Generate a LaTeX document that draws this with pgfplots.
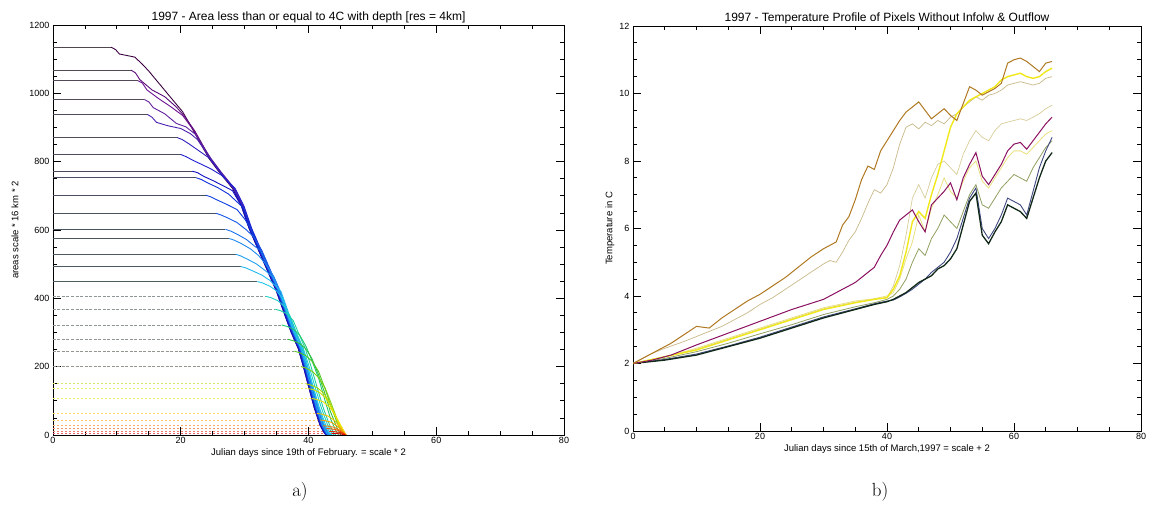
\documentclass[border=0pt]{standalone}
\usepackage{fontspec}
\newfontfamily\hers{Liberation Sans}
\usepackage{pgfplots}
\pgfplotsset{compat=1.18}
% left chart line colours (rainbow, top -> bottom)
\definecolor{c1}{HTML}{3A0040}\definecolor{c2}{HTML}{5A0A78}\definecolor{c3}{HTML}{6A1090}
\definecolor{c4}{HTML}{6020A0}\definecolor{c5}{HTML}{4A20B0}\definecolor{c6}{HTML}{3020C0}
\definecolor{c7}{HTML}{2020D0}\definecolor{c8}{HTML}{1010C0}\definecolor{c9}{HTML}{1030D8}
\definecolor{c10}{HTML}{1040E0}\definecolor{c11}{HTML}{1858E8}\definecolor{c12}{HTML}{1A70EC}
\definecolor{c13}{HTML}{2088F0}\definecolor{c14}{HTML}{20A0F0}\definecolor{c15}{HTML}{20B8F0}
\definecolor{c16}{HTML}{20C8E8}\definecolor{c17}{HTML}{20D0C8}\definecolor{c18}{HTML}{20D0A0}
\definecolor{c19}{HTML}{20C870}\definecolor{c20}{HTML}{30C040}\definecolor{c21}{HTML}{50C820}
\definecolor{c22}{HTML}{80D010}\definecolor{c23}{HTML}{B0D800}\definecolor{c24}{HTML}{D8E000}
\definecolor{c25}{HTML}{F0E000}\definecolor{c26}{HTML}{F8C000}\definecolor{c27}{HTML}{F8A000}
\definecolor{c28}{HTML}{F87800}\definecolor{c29}{HTML}{F05000}\definecolor{c30}{HTML}{E82800}
\definecolor{c31}{HTML}{D80000}
% right chart colours
\definecolor{sA}{HTML}{B07820}\definecolor{sB}{HTML}{C8B888}\definecolor{sC}{HTML}{F0E818}
\definecolor{sD}{HTML}{8A1060}\definecolor{sE}{HTML}{D8CC98}\definecolor{sF}{HTML}{102818}
\definecolor{sG}{HTML}{404880}\definecolor{sH}{HTML}{90A060}\definecolor{sI}{HTML}{E8E080}
\pgfplotsset{
  idl/.style={scale only axis, anchor=south west, xmin=0, xmax=80,
    xtick={0,20,40,60,80}, minor x tick num=3, minor y tick num=3,
    tick align=inside, xtick pos=both, ytick pos=both,
    major tick length=8pt, minor tick length=4pt,
    axis line style={line width=0.8pt},
    every tick/.style={black, line width=0.8pt},
    /pgf/number format/assume math mode=true,
    /pgf/number format/1000 sep={},
    scaled ticks=false, no markers,
    tick label style={font=\hers\fontsize{9}{10}\selectfont},
    xticklabel style={anchor=base, yshift=-9pt},
    title style={font=\hers\fontsize{12}{14}\selectfont, anchor=base, yshift=-2pt},
    label style={font=\hers\fontsize{9.5}{11}\selectfont},
    xlabel style={at={(axis description cs:0.5,0)}, anchor=base, yshift=-21pt},
  },
  dl/.style={line width=0.9pt, color=#1},
  fu/.style={line width=0.8pt, color=#1!15!black!72},
  fm/.style={line width=0.8pt, color=#1!12!black!45, dash pattern=on 3pt off 1.5pt},
  fl/.style={line width=0.8pt, color=#1!60, dash pattern=on 2pt off 2pt},
}
\begin{document}
\begin{tikzpicture}
\useasboundingbox (0,0) rectangle (1152pt,510pt);
% ---------------- left chart ----------------
\begin{axis}[idl, at={(53pt,75pt)}, width=511pt, height=410pt,
  ymin=0, ymax=1200, ytick={0,200,...,1200},
  title={1997 - Area less than or equal to 4C with depth [res = 4km]},
  xlabel={Julian days since 19th of February. = scale * 2},
  ylabel={areas scale * 16 km * 2},
  ylabel style={at={(axis description cs:-0.0744,0.5)}, anchor=center},
]
% flat parts
\addplot[fu=c1] coordinates {(0,1135)(9.1,1135)};
\addplot[fu=c2] coordinates {(0,1068)(12.2,1068)};
\addplot[fu=c3] coordinates {(0,1037)(13.3,1037)};
\addplot[fu=c4] coordinates {(0,982)(14.3,982)};
\addplot[fu=c5] coordinates {(0,938)(14.8,938)};
\addplot[fu=c6] coordinates {(0,870)(19.5,870)};
\addplot[fu=c7] coordinates {(0,821)(20,821)};
\addplot[fu=c8] coordinates {(0,772)(21.8,772)};
\addplot[fu=c9] coordinates {(0,753)(22.4,753)};
\addplot[fu=c10] coordinates {(0,702)(23.9,702)};
\addplot[fu=c11] coordinates {(0,649)(25.5,649)};
\addplot[fu=c12] coordinates {(0,602)(27,602)};
\addplot[fu=c13] coordinates {(0,575)(27.6,575)};
\addplot[fu=c14] coordinates {(0,529)(28.6,529)};
\addplot[fu=c15] coordinates {(0,493)(29.4,493)};
\addplot[fu=c16] coordinates {(0,449)(32,449)};
\addplot[fm=c17] coordinates {(0,406)(33.3,406)};
\addplot[fm=c18] coordinates {(0,368)(34.8,368)};
\addplot[fm=c19] coordinates {(0,322)(35.8,322)};
\addplot[fm=c20] coordinates {(0,280)(36.8,280)};
\addplot[fm=c21] coordinates {(0,245)(37.8,245)};
\addplot[fm=c22] coordinates {(0,200)(38.8,200)};
\addplot[fl=c23] coordinates {(0,150)(39.6,150)};
\addplot[fl=c24] coordinates {(0,136)(39.9,136)};
\addplot[fl=c25] coordinates {(0,107)(40.5,107)};
\addplot[fl=c26] coordinates {(0,63)(41.3,63)};
\addplot[fl=c27] coordinates {(0,44)(41.8,44)};
\addplot[fl=c28] coordinates {(0,27)(42.3,27)};
\addplot[fl=c29] coordinates {(0,19)(42.8,19)};
\addplot[fl=c30] coordinates {(0,11)(43.2,11)};
\addplot[fl=c31] coordinates {(0,5)(43.6,5)};
% declining parts
\addplot[dl=c1] coordinates {(9.1,1135)(9.8,1128)(10.4,1115)(11.5,1111)(12.8,1106)(14,1085)(15,1065)(17,1020)(19,975)(20.3,946)(22,890)(24.4,810)(26,770)(28.1,722)(29.5,670)(30.7,605)(32.2,540)(34.0,463)(35.0,420)(36.3,351)(37.3,300)(38.4,253)(39.2,200)(40.1,136)(40.9,80)(41.8,29)(42.5,5)(42.8,0)};
\addplot[dl=c2] coordinates {(12.2,1068)(12.9,1060)(13.6,1040)(15.5,1010)(17.5,990)(19.3,960)(20.5,935)(22.2,890)(24.6,810)(26.2,770)(28.3,722)(29.7,670)(30.9,605)(32.4,540)(34.2,463)(35.2,420)(36.5,351)(37.5,300)(38.6,253)(39.4,200)(40.3,136)(41.1,80)(42.0,29)(42.7,5)(43.0,0)};
\addplot[dl=c3] coordinates {(13.3,1037)(14,1030)(14.7,1010)(16.5,985)(18.5,960)(20.3,935)(22.1,890)(24.5,810)(26.1,770)(28.2,722)(29.6,670)(30.8,605)(32.3,540)(34.1,463)(35.1,420)(36.4,351)(37.4,300)(38.5,253)(39.3,200)(40.2,136)(41.0,80)(41.9,29)(42.6,5)(42.9,0)};
\addplot[dl=c4] coordinates {(14.3,982)(15,975)(15.7,958)(17.5,940)(19.3,912)(20.8,902)(22.3,880)(24.7,810)(26.3,770)(28.4,722)(29.8,670)(31.0,605)(32.5,540)(34.3,463)(35.3,420)(36.6,351)(37.6,300)(38.7,253)(39.5,200)(40.4,136)(41.2,80)(42.1,29)(42.8,5)(43.1,0)};
\addplot[dl=c5] coordinates {(14.8,938)(15.5,930)(16.2,915)(18,905)(20,897)(21.5,882)(22.6,865)(24.6,810)(26.2,770)(28.3,722)(29.7,670)(30.9,605)(32.4,540)(34.2,463)(35.2,420)(36.5,351)(37.5,300)(38.6,253)(39.4,200)(40.3,136)(41.1,80)(42.0,29)(42.7,5)(43.0,0)};
\addplot[dl=c6] coordinates {(19.5,870)(20.2,865)(21.3,852)(22.6,835)(24.5,810)(26.1,770)(28.2,722)(29.6,670)(30.8,605)(32.3,540)(34.1,463)(35.1,420)(36.4,351)(37.4,300)(38.5,253)(39.3,200)(40.2,136)(41.0,80)(41.9,29)(42.6,5)(42.9,0)};
\addplot[dl=c7] coordinates {(20,821)(20.8,815)(22,803)(23.5,790)(24.8,778)(26.4,760)(28.5,722)(29.9,670)(31.1,605)(32.6,540)(34.4,463)(35.4,420)(36.7,351)(37.7,300)(38.8,253)(39.6,200)(40.5,136)(41.3,80)(42.2,29)(42.9,5)(43.2,0)};
\addplot[dl=c8] coordinates {(21.8,772)(22.6,768)(23.6,757)(25,745)(26.8,728)(28.1,715)(29.5,670)(30.7,605)(32.2,540)(34.0,463)(35.0,420)(36.3,351)(37.3,300)(38.4,253)(39.2,200)(40.1,136)(40.9,80)(41.8,29)(42.5,5)(42.8,0)};
\addplot[dl=c9] coordinates {(22.4,753)(23.2,748)(24.3,737)(25.8,724)(27.5,705)(29.8,665)(31.0,605)(32.5,540)(34.3,463)(35.3,420)(36.6,351)(37.6,300)(38.7,253)(39.5,200)(40.4,136)(41.2,80)(42.1,29)(42.8,5)(43.1,0)};
\addplot[dl=c10] coordinates {(23.9,702)(24.7,697)(25.8,687)(27.2,675)(28.8,660)(30.1,630)(30.9,605)(32.4,540)(34.2,463)(35.2,420)(36.5,351)(37.5,300)(38.6,253)(39.4,200)(40.3,136)(41.1,80)(42.0,29)(42.7,5)(43.0,0)};
\addplot[dl=c11] coordinates {(25.5,649)(26.3,644)(27.4,635)(28.8,622)(30.3,600)(31.4,580)(32.7,540)(34.5,463)(35.5,420)(36.8,351)(37.8,300)(38.9,253)(39.7,200)(40.6,136)(41.4,80)(42.3,29)(43.0,5)(43.3,0)};
\addplot[dl=c12] coordinates {(27,602)(27.8,597)(28.9,587)(30.3,572)(31.6,552)(32.5,540)(34.3,463)(35.3,420)(36.6,351)(37.6,300)(38.7,253)(39.5,200)(40.4,136)(41.2,80)(42.1,29)(42.8,5)(43.1,0)};
\addplot[dl=c13] coordinates {(27.6,575)(28.4,570)(29.5,560)(30.9,545)(32.2,525)(33.3,500)(34.6,463)(35.6,420)(36.9,351)(37.9,300)(39.0,253)(39.8,200)(40.7,136)(41.5,80)(42.4,29)(43.1,5)(43.4,0)};
\addplot[dl=c14] coordinates {(28.6,529)(29.4,524)(30.5,514)(31.9,500)(33.3,480)(34.4,463)(35.4,420)(36.7,351)(37.7,300)(38.8,253)(39.6,200)(40.5,136)(41.3,80)(42.2,29)(42.9,5)(43.2,0)};
\addplot[dl=c15] coordinates {(29.4,493)(30.2,489)(31.3,480)(32.7,468)(34.0,452)(35.0,433)(35.7,420)(37.0,351)(38.0,300)(39.1,253)(39.9,200)(40.8,136)(41.6,80)(42.5,29)(43.2,5)(43.5,0)};
\addplot[dl=c16] coordinates {(32,449)(32.8,445)(33.9,436)(35,422)(35.9,400)(36.8,351)(37.8,300)(38.9,253)(39.8,200)(40.8,136)(41.7,80)(42.7,29)(43.4,5)(43.7,0)};
\addplot[dl=c17] coordinates {(33.3,406)(34.1,402)(35.2,393)(36.3,375)(37.2,345)(38.1,300)(39.2,253)(40.1,200)(41.1,136)(42.0,80)(43.0,29)(43.7,5)(44.0,0)};
\addplot[dl=c18] coordinates {(34.8,368)(35.6,364)(36.6,355)(37.6,335)(38.4,300)(39.5,253)(40.4,200)(41.4,136)(42.3,80)(43.3,29)(44.0,5)(44.3,0)};
\addplot[dl=c19] coordinates {(35.8,322)(36.6,318)(37.6,310)(38.6,293)(39.6,260)(40.6,215)(41.6,165)(42.6,100)(43.5,45)(44.3,12)(44.7,0)};
\addplot[dl=c20] coordinates {(36.8,280)(37.6,276)(38.6,268)(39.6,252)(40.5,225)(41.5,180)(42.5,125)(43.4,70)(44.3,28)(44.9,5)(45.1,0)};
\addplot[dl=c21] coordinates {(37.8,245)(38.6,241)(39.6,232)(40.6,215)(41.6,185)(42.6,135)(43.5,85)(44.4,40)(45.1,10)(45.4,0)};
\addplot[dl=c22] coordinates {(38.8,200)(39.6,196)(40.6,186)(41.6,168)(42.6,138)(43.5,95)(44.3,55)(45.0,22)(45.4,5)(45.6,0)};
\addplot[dl=c23] coordinates {(39.6,150)(40.4,146)(41.4,138)(42.4,122)(43.3,95)(44.1,60)(44.9,28)(45.5,8)(45.7,0)};
\addplot[dl=c24] coordinates {(39.9,136)(40.7,133)(41.7,125)(42.7,108)(43.6,80)(44.4,47)(45.1,20)(45.6,4)(45.8,0)};
\addplot[dl=c25] coordinates {(40.5,107)(41.3,104)(42.3,97)(43.3,82)(44.2,58)(45.0,30)(45.6,10)(45.9,0)};
\addplot[dl=c26] coordinates {(41.3,63)(42.1,61)(43.1,55)(44.1,42)(45.0,22)(45.6,8)(45.9,0)};
\addplot[dl=c27] coordinates {(41.8,44)(42.6,42)(43.6,37)(44.6,25)(45.4,10)(45.9,0)};
\addplot[dl=c28] coordinates {(42.3,27)(43.1,26)(44.1,22)(45.0,13)(45.7,3)(45.9,0)};
\addplot[dl=c29] coordinates {(42.8,19)(43.6,18)(44.6,14)(45.4,6)(45.8,0)};
\addplot[dl=c30] coordinates {(43.2,11)(44.0,10)(45.0,7)(45.6,2)(45.8,0)};
\addplot[dl=c31] coordinates {(43.6,5)(44.4,4.5)(45.3,2)(45.7,0)};
\end{axis}
% ---------------- right chart ----------------
\begin{axis}[idl, at={(633pt,79pt)}, width=508pt, height=405pt,
  ymin=0, ymax=12, ytick={0,2,...,12},
  title={1997 - Temperature Profile of Pixels Without Infolw \& Outflow},
  xlabel={Julian days since 15th of March,1997 = scale + 2},
  ylabel={Temperature in C},
  ylabel style={at={(axis description cs:-0.0453,0.5)}, anchor=center},
]
\addplot[line width=0.7pt, color=sB] coordinates {(0,2.0)(3,2.3)(5,2.45)(8,2.65)(10,2.8)(12,2.95)(14,3.1)(16,3.3)(18,3.5)(20,3.75)(22,3.95)(24,4.2)(26,4.45)(28,4.7)(30,4.95)(31,5.05)(32,5.0)(33,5.3)(34,5.65)(35,5.9)(36,6.3)(37,6.75)(38,7.15)(39,7.05)(40,7.3)(41,7.8)(42,8.5)(43,9.0)(44,9.1)(45,8.95)(46,9.15)(47,9.05)(48,9.2)(49,9.1)(50,9.3)(51,9.4)(52,9.6)(53,9.75)(54,9.9)(55,9.8)(56,9.95)(57,10.0)(58,10.1)(59,10.25)(60,10.3)(61,10.35)(62,10.3)(63,10.25)(64,10.3)(65,10.45)(66,10.5)};
\addplot[line width=0.7pt, color=sE] coordinates {(0,2.0)(5,2.2)(10,2.42)(15,2.72)(20,3.02)(25,3.32)(30,3.62)(35,3.82)(38,3.9)(40,3.95)(41,4.3)(42,4.9)(43,5.8)(44,6.9)(45,7.3)(46,6.9)(47,7.5)(48,7.9)(49,8.0)(50,7.8)(51,7.6)(52,8.2)(53,8.6)(54,8.9)(55,8.7)(56,8.6)(57,8.9)(58,9.1)(59,9.15)(60,9.2)(61,9.25)(62,9.2)(63,9.3)(64,9.4)(65,9.55)(66,9.65)};
\addplot[line width=0.8pt, color=sI] coordinates {(0,2.0)(5,2.2)(10,2.45)(15,2.75)(20,3.05)(25,3.35)(30,3.65)(35,3.85)(38,3.92)(40,4.0)(41,4.1)(42,4.5)(43,5.1)(44,5.6)(45,6.4)(46,5.9)(47,6.6)(48,7.0)(49,7.5)(50,7.1)(51,6.9)(52,7.4)(53,7.8)(54,8.0)(55,7.4)(56,7.2)(57,7.5)(58,7.8)(59,8.1)(60,8.3)(61,8.3)(62,8.2)(63,8.4)(64,8.6)(65,8.8)(66,8.9)};
\addplot[line width=0.8pt, color=sH] coordinates {(0,2.0)(5,2.15)(10,2.35)(15,2.6)(20,2.88)(25,3.15)(30,3.45)(35,3.68)(38,3.8)(40,3.9)(41,4.0)(42,4.2)(43,4.5)(44,5.0)(45,5.4)(46,5.2)(47,5.7)(48,6.0)(49,6.4)(50,6.2)(51,6.0)(52,6.5)(53,7.0)(54,7.3)(55,6.7)(56,6.6)(57,6.9)(58,7.2)(59,7.4)(60,7.6)(61,7.5)(62,7.4)(63,7.8)(64,8.1)(65,8.4)(66,8.6)};
\addplot[line width=0.9pt, color=sG] coordinates {(0,2.0)(5,2.12)(10,2.28)(15,2.52)(20,2.78)(25,3.08)(30,3.38)(35,3.62)(38,3.77)(40,3.85)(41,3.88)(42,3.97)(43,4.08)(44,4.2)(45,4.35)(46,4.5)(47,4.7)(48,4.85)(49,5.0)(50,5.3)(51,5.7)(52,6.3)(53,6.9)(54,7.2)(55,6.0)(56,5.7)(57,6.0)(58,6.4)(59,6.9)(60,6.8)(61,6.7)(62,6.4)(63,7.1)(64,7.8)(65,8.3)(66,8.7)};
\addplot[line width=1.3pt, color=sF] coordinates {(0,2.0)(5,2.1)(10,2.25)(15,2.5)(20,2.75)(25,3.05)(30,3.35)(35,3.6)(38,3.75)(40,3.83)(41,3.9)(42,4.0)(43,4.1)(44,4.25)(45,4.4)(46,4.5)(47,4.6)(48,4.8)(49,4.9)(50,5.1)(51,5.4)(52,6.1)(53,6.8)(54,7.05)(55,5.8)(56,5.55)(57,5.9)(58,6.2)(59,6.7)(60,6.6)(61,6.5)(62,6.3)(63,6.9)(64,7.5)(65,8.0)(66,8.25)};
\addplot[line width=1.4pt, color=sC] coordinates {(0,2.0)(5,2.2)(10,2.4)(15,2.7)(20,3.0)(25,3.3)(30,3.6)(35,3.8)(38,3.9)(40,3.95)(41,4.2)(42,4.6)(43,5.3)(44,6.2)(45,6.5)(46,6.3)(47,7.0)(48,7.6)(49,8.3)(50,9.0)(51,9.4)(52,9.6)(53,9.8)(54,9.9)(55,10.0)(56,10.1)(57,10.2)(58,10.4)(59,10.5)(60,10.55)(61,10.6)(62,10.5)(63,10.45)(64,10.5)(65,10.65)(66,10.75)};
\addplot[line width=1.0pt, color=sD] coordinates {(0,2.0)(3,2.1)(6,2.25)(10,2.55)(15,2.9)(20,3.25)(25,3.6)(30,3.9)(33,4.2)(35,4.4)(37,4.7)(38,4.85)(39,5.2)(40,5.5)(41,5.9)(42,6.25)(43,6.4)(44,6.55)(45,6.2)(46,5.9)(47,6.7)(48,6.9)(49,7.1)(50,7.35)(51,6.85)(52,7.5)(53,7.9)(54,8.25)(55,7.55)(56,7.3)(57,7.6)(58,7.9)(59,8.3)(60,8.5)(61,8.55)(62,8.35)(63,8.6)(64,8.85)(65,9.1)(66,9.3)};
\addplot[line width=1.0pt, color=sA] coordinates {(0,2.0)(2,2.2)(4,2.4)(6,2.6)(8,2.85)(10,3.1)(12,3.05)(14,3.35)(16,3.6)(18,3.85)(20,4.05)(22,4.3)(24,4.55)(26,4.85)(28,5.15)(30,5.4)(31,5.5)(32,5.6)(33,6.1)(34,6.35)(35,6.85)(36,7.45)(37,7.85)(38,7.75)(39,8.3)(40,8.6)(41,8.9)(42,9.2)(43,9.45)(44,9.6)(45,9.75)(46,9.5)(47,9.25)(48,9.4)(49,9.55)(50,9.35)(51,9.2)(52,9.7)(53,10.2)(54,10.1)(55,9.95)(56,10.05)(57,10.15)(58,10.3)(59,10.9)(60,11.0)(61,11.05)(62,10.95)(63,10.8)(64,10.65)(65,10.9)(66,10.95)};
\end{axis}
\node[font=\fontsize{19}{21}\selectfont] at (300pt,18pt) {a)};
\node[font=\fontsize{19}{21}\selectfont] at (880pt,18pt) {b)};
\end{tikzpicture}
\end{document}
